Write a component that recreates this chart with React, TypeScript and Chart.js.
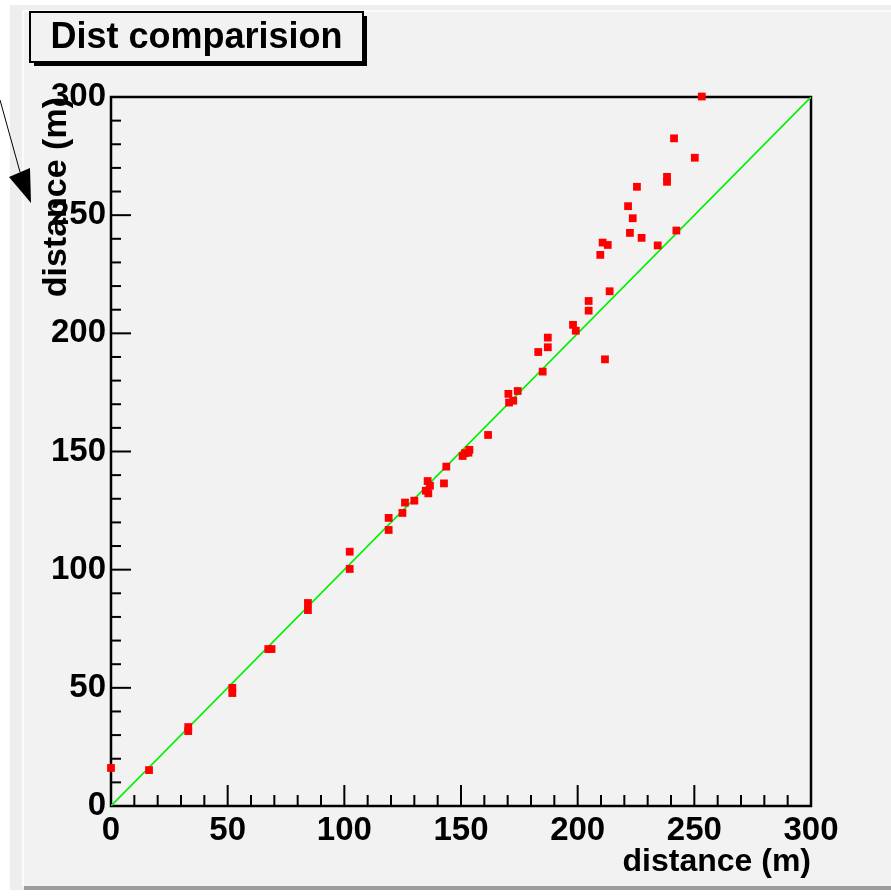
import React, { useEffect, useRef } from "react";
import { Chart, registerables } from "chart.js";

Chart.register(...registerables);

// Measured distance (x) vs. computed distance (y)
const xValues = [0, 16.3, 33.1, 33.1, 52, 52, 67.4, 68.8, 84.4, 84.4, 102.3, 102.3, 119, 119, 124.9, 126, 130, 135.7, 136.7, 134.9, 136, 142.7, 143.7, 150.7, 151.7, 153.6, 153.2, 161.6, 170.3, 170.6, 172.4, 174.3, 185, 183.1, 187.2, 187.2, 198, 199.2, 204.7, 204.7, 211.7, 213.7, 209.7, 210.7, 212.9, 222.4, 227.4, 223.6, 221.6, 225.4, 234.3, 242.3, 238.3, 238.3, 241.3, 250.2, 253.2];
const yValues = [16.1, 15.2, 33.4, 31.7, 50, 47.8, 66.4, 66.4, 85.9, 82.9, 107.6, 100.3, 121.9, 116.8, 124, 128.4, 129.2, 137.5, 135.5, 133.4, 132.3, 136.5, 143.6, 148.1, 149.3, 150.7, 149.5, 157, 174.4, 170.7, 171.5, 175.6, 183.8, 192.1, 194.1, 198.2, 203.6, 201.1, 209.6, 213.7, 189, 217.8, 233.2, 238.4, 237.4, 242.5, 240.4, 248.7, 253.8, 262, 237.2, 243.5, 266.2, 264.1, 282.5, 274.3, 300.2];

// Reference (y = x) line end points
const lineX = [0, 300];
const lineY = [0, 300];

const axisMin = 0;
const axisMax = 300;
const majorStep = 50;
const minorStep = 10;

const titleText = "Dist comparision";
const xTitle = "distance (m)";
const yTitle = "distance (m)";

const FONT = '"Liberation Sans", Arial, Helvetica, sans-serif';

export default function App() {
  const ref = useRef<HTMLCanvasElement>(null);

  useEffect(() => {
    const canvas = ref.current;
    if (!canvas) return;

    const decor = {
      id: "decor",
      beforeDraw(chart: any) {
        const ctx = chart.ctx;
        const W = chart.width;
        const H = chart.height;
        ctx.save();
        ctx.fillStyle = "#ffffff";
        ctx.fillRect(0, 0, W, H);
        ctx.fillStyle = "#eeeeee";
        ctx.fillRect(10, 5, W - 10, 885);
        ctx.fillStyle = "#fbfbfb";
        ctx.fillRect(22, 10, W - 22, 877);
        ctx.fillStyle = "#f2f2f2";
        ctx.fillRect(24, 12, W - 24, 874);
        ctx.fillStyle = "#9c9c9c";
        ctx.fillRect(24, 886, W - 24, 4);

        // title box with shadow
        ctx.fillStyle = "#000000";
        ctx.fillRect(34, 16, 333, 50);
        ctx.fillStyle = "#f2f2f2";
        ctx.fillRect(30, 12, 333, 50);
        ctx.strokeStyle = "#000000";
        ctx.lineWidth = 2;
        ctx.strokeRect(30, 12, 333, 50);
        ctx.fillStyle = "#000000";
        ctx.font = `bold 36px ${FONT}`;
        ctx.textAlign = "center";
        ctx.textBaseline = "middle";
        ctx.fillText(titleText, 196.5, 38);

        // arrow at top-left
        ctx.strokeStyle = "#000000";
        ctx.lineWidth = 1;
        ctx.beginPath();
        ctx.moveTo(0, 100);
        ctx.lineTo(20, 172);
        ctx.stroke();
        ctx.beginPath();
        ctx.moveTo(9, 177);
        ctx.lineTo(30, 168);
        ctx.lineTo(31, 203);
        ctx.closePath();
        ctx.fill();
        ctx.restore();
      },
      beforeDatasetsDraw(chart: any) {
        const ctx = chart.ctx;
        const { left, right, top, bottom } = chart.chartArea;
        const xs = chart.scales.x;
        const ys = chart.scales.y;
        ctx.save();
        ctx.strokeStyle = "#000000";
        ctx.lineWidth = 2;
        for (let v = axisMin; v <= axisMax; v += minorStep) {
          const major = v % majorStep === 0;
          const px = xs.getPixelForValue(v);
          ctx.beginPath();
          ctx.moveTo(px, bottom);
          ctx.lineTo(px, bottom - (major ? 21 : 11));
          ctx.stroke();
          const py = ys.getPixelForValue(v);
          ctx.beginPath();
          ctx.moveTo(left, py);
          ctx.lineTo(left + (major ? 20 : 10), py);
          ctx.stroke();
        }
        ctx.lineWidth = 2.5;
        ctx.strokeRect(left, top, right - left, bottom - top);
        ctx.restore();
      },
    };

    const tickFont = { family: FONT, size: 33, weight: "bold" as const };

    const chart = new Chart(canvas, {
      type: "scatter",
      data: {
        datasets: [
          {
            label: "points",
            data: xValues.map((x, i) => ({ x, y: yValues[i] })),
            pointStyle: "rect",
            pointRadius: 5.5,
            pointHoverRadius: 5.5,
            pointBorderWidth: 0,
            backgroundColor: "#ff0000",
            borderColor: "#ff0000",
            showLine: false,
            clip: false as any,
            order: 0,
          },
          {
            label: "reference",
            data: lineX.map((x, i) => ({ x, y: lineY[i] })),
            showLine: true,
            pointRadius: 0,
            borderColor: "#00f000",
            borderWidth: 1.6,
            backgroundColor: "#00f000",
            order: 1,
          },
        ],
      },
      options: {
        animation: false,
        responsive: false,
        devicePixelRatio: 1,
        layout: { padding: { left: 0, top: 97, right: 80, bottom: 0 } },
        plugins: {
          legend: { display: false },
          tooltip: { enabled: false },
          title: { display: false },
        },
        scales: {
          x: {
            type: "linear",
            min: axisMin,
            max: axisMax,
            grid: { display: false, drawTicks: false },
            border: { display: false },
            ticks: {
              stepSize: majorStep,
              font: tickFont,
              color: "#000000",
              padding: 5,
              maxRotation: 0,
              autoSkip: false,
            },
            title: {
              display: true,
              text: xTitle,
              align: "end",
              font: { family: FONT, size: 32, weight: "bold" as const },
              color: "#000000",
              padding: { top: 0, bottom: 15 },
            },
            afterFit(scale: any) {
              scale.height = 90;
            },
          },
          y: {
            type: "linear",
            min: axisMin,
            max: axisMax,
            grid: { display: false, drawTicks: false },
            border: { display: false },
            ticks: {
              stepSize: majorStep,
              font: tickFont,
              color: "#000000",
              padding: 5,
              autoSkip: false,
            },
            title: {
              display: true,
              text: yTitle,
              align: "end",
              font: { family: FONT, size: 34, weight: "bold" as const },
              color: "#000000",
              padding: { top: 36, bottom: 0 },
            },
            afterFit(scale: any) {
              scale.width = 111;
            },
          },
        },
      },
      plugins: [decor],
    });

    return () => chart.destroy();
  }, []);

  return (
    <div style={{ position: "absolute", left: 0, top: 0, width: 891, height: 896 }}>
      <canvas ref={ref} width={891} height={896} style={{ width: 891, height: 896, display: "block" }} />
    </div>
  );
}
